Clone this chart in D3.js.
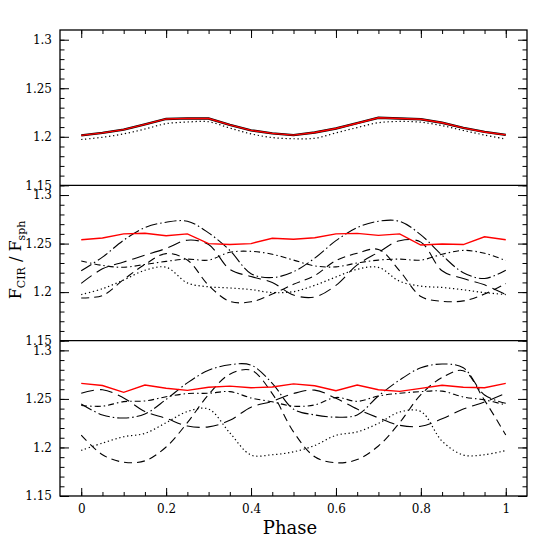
<!DOCTYPE html>
<html lang="en">
<head>
    <meta charset="UTF-8">
    <script src="https://d3js.org/d3.v7.min.js"></script>
    <title>F_CIR / F_sph vs phase</title>
    <style>
        body { margin: 0; background: #fff; }
        svg { display: block; }
        .tick text { font-family: "DejaVu Serif", serif; font-size: 12px; fill: #000; }
        .tick line { stroke: #000; stroke-width: 1; }
    </style>
</head>
<body>
<div id="chart"></div>
<script>
    // phase samples shared by every curve
    const phase = [0, 0.05, 0.1, 0.15, 0.2, 0.25, 0.3, 0.35, 0.4, 0.45, 0.5,
                   0.55, 0.6, 0.65, 0.7, 0.75, 0.8, 0.85, 0.9, 0.95, 1];

    // top panel
    const p1Red = [1.2015, 1.2040, 1.2074, 1.2128, 1.2184, 1.2190, 1.2188, 1.2122, 1.2066, 1.2035, 1.2017,
                   1.2044, 1.2085, 1.2140, 1.2196, 1.2188, 1.2180, 1.2145, 1.2092, 1.2050, 1.2020];
    const p1Dot = [1.1972, 1.1995, 1.2030, 1.2080, 1.2135, 1.2152, 1.2155, 1.2090, 1.2030, 1.1992, 1.1980,
                   1.1985, 1.2040, 1.2095, 1.2145, 1.2158, 1.2150, 1.2115, 1.2065, 1.2018, 1.1977];

    // middle panel
    const p2Red = [1.2540, 1.2558, 1.2600, 1.2607, 1.2580, 1.2600, 1.2500, 1.2490, 1.2500, 1.2555, 1.2545,
                   1.2560, 1.2600, 1.2605, 1.2585, 1.2600, 1.2485, 1.2496, 1.2490, 1.2570, 1.2540];
    const p2LongDashDot = [1.2220, 1.2360, 1.2535, 1.2665, 1.2720, 1.2730, 1.2610, 1.2430, 1.2190, 1.2150, 1.2210,
                           1.2350, 1.2530, 1.2665, 1.2730, 1.2729, 1.2590, 1.2380, 1.2200, 1.2140, 1.2225];
    const p2DashDot = [1.2320, 1.2275, 1.2256, 1.2285, 1.2317, 1.2340, 1.2330, 1.2410, 1.2420, 1.2390, 1.2330,
                       1.2270, 1.2260, 1.2300, 1.2330, 1.2340, 1.2330, 1.2390, 1.2430, 1.2400, 1.2325];
    const p2LongDash = [1.2090, 1.2240, 1.2310, 1.2380, 1.2450, 1.2535, 1.2490, 1.2235, 1.2160, 1.2100, 1.1970,
                        1.1950, 1.2070, 1.2280, 1.2410, 1.2530, 1.2515, 1.2220, 1.2140, 1.2075, 1.1975];
    const p2Dash = [1.1940, 1.1965, 1.2130, 1.2285, 1.2397, 1.2330, 1.2070, 1.1905, 1.1900, 1.1980, 1.2080,
                    1.2170, 1.2325, 1.2400, 1.2440, 1.2220, 1.1955, 1.1905, 1.1910, 1.1980, 1.2088];
    const p2Dot = [1.1975, 1.2035, 1.2125, 1.2225, 1.2256, 1.2095, 1.2055, 1.2043, 1.2026, 1.1995, 1.2005,
                   1.2070, 1.2156, 1.2235, 1.2255, 1.2112, 1.2062, 1.2048, 1.2024, 1.1995, 1.1975];

    // bottom panel
    const p3Red = [1.2660, 1.2638, 1.2568, 1.2643, 1.2610, 1.2588, 1.2620, 1.2632, 1.2615, 1.2622, 1.2655,
                   1.2635, 1.2585, 1.2643, 1.2594, 1.2578, 1.2608, 1.2640, 1.2620, 1.2615, 1.2660];
    const p3LongDashDot = [1.2448, 1.2335, 1.2303, 1.2345, 1.2495, 1.2665, 1.2795, 1.2852, 1.2848, 1.2660, 1.2395,
                           1.2335, 1.2312, 1.2335, 1.2530, 1.2695, 1.2820, 1.2860, 1.2820, 1.2540, 1.2455];
    const p3DashDot = [1.2432, 1.2425, 1.2472, 1.2479, 1.2522, 1.2555, 1.2558, 1.2575, 1.2510, 1.2470, 1.2425,
                       1.2438, 1.2515, 1.2475, 1.2530, 1.2558, 1.2575, 1.2580, 1.2520, 1.2490, 1.2438];
    const p3LongDash = [1.2558, 1.2595, 1.2510, 1.2370, 1.2300, 1.2221, 1.2212, 1.2280, 1.2415, 1.2475, 1.2555,
                        1.2590, 1.2506, 1.2395, 1.2305, 1.2228, 1.2218, 1.2295, 1.2395, 1.2468, 1.2558];
    const p3Dash = [1.2128, 1.1925, 1.1848, 1.1862, 1.2005, 1.2255, 1.2545, 1.2755, 1.2795, 1.2555, 1.2160,
                    1.1905, 1.1842, 1.1875, 1.2015, 1.2255, 1.2545, 1.2720, 1.2790, 1.2485, 1.2128];
    const p3Dot = [1.1970, 1.2045, 1.2110, 1.2145, 1.2255, 1.2370, 1.2395, 1.2150, 1.1922, 1.1925, 1.1955,
                   1.2020, 1.2125, 1.2160, 1.2248, 1.2365, 1.2370, 1.2065, 1.1922, 1.1925, 1.1968];

    // axis ticks and labels
    const xTicks = [0, 0.2, 0.4, 0.6, 0.8, 1];
    const xTickLabels = ["0", "0.2", "0.4", "0.6", "0.8", "1"];
    const yTicks = [1.15, 1.2, 1.25, 1.3];
    const yTickLabels = ["1.15", "1.2", "1.25", "1.3"];

    const width = 556, height = 556;
    const plotLeft = 60, plotRight = 527, plotTop = 30, panelH = 155.33;

    const styles = {
        red:         { color: "#ff0000", width: 1.4, dash: null, curve: d3.curveLinear },
        longDashDot: { color: "#000", width: 1.1, dash: "12,3,1.5,3", curve: d3.curveCatmullRom },
        dashDot:     { color: "#000", width: 1.1, dash: "6,3,1.5,3", curve: d3.curveCatmullRom },
        longDash:    { color: "#000", width: 1.1, dash: "13,6", curve: d3.curveCatmullRom },
        dash:        { color: "#000", width: 1.1, dash: "8,5", curve: d3.curveCatmullRom },
        dot:         { color: "#000", width: 1.2, dash: "1.3,2.7", curve: d3.curveCatmullRom },
        under:       { color: "#000", width: 2.4, dash: null, curve: d3.curveLinear }
    };

    const panels = [
        [["under", p1Red], ["dot", p1Dot], ["red", p1Red]],
        [["dot", p2Dot], ["dash", p2Dash], ["longDash", p2LongDash], ["dashDot", p2DashDot],
         ["longDashDot", p2LongDashDot], ["red", p2Red]],
        [["dot", p3Dot], ["dash", p3Dash], ["longDash", p3LongDash], ["dashDot", p3DashDot],
         ["longDashDot", p3LongDashDot], ["red", p3Red]]
    ];

    const svg = d3.select("#chart").append("svg")
        .attr("width", width)
        .attr("height", height);

    const x = d3.scaleLinear().domain([-0.05, 1.05]).range([plotLeft, plotRight]);

    const minorX = d3.range(0, 1.0001, 0.05);
    const minorY = d3.range(1.15, 1.3001, 0.01);

    panels.forEach((series, i) => {
        const y0 = plotTop + i * panelH;
        const y = d3.scaleLinear().domain([1.15, 1.31]).range([y0 + panelH, y0]);

        // minor y ticks, both sides
        svg.append("g").attr("transform", `translate(${plotLeft},0)`)
            .call(d3.axisLeft(y).tickValues(minorY).tickSize(-4.5).tickFormat(""))
            .call(g => g.select(".domain").remove());
        svg.append("g").attr("transform", `translate(${plotRight},0)`)
            .call(d3.axisRight(y).tickValues(minorY).tickSize(-4.5).tickFormat(""))
            .call(g => g.select(".domain").remove());

        // major y ticks with labels (1.15 of one panel sits on 1.3 of the next, as in the original)
        svg.append("g").attr("transform", `translate(${plotLeft},0)`)
            .call(d3.axisLeft(y).tickValues(yTicks).tickSize(-9).tickPadding(8)
                .tickFormat((d, k) => yTickLabels[k]))
            .call(g => g.select(".domain").remove());
        svg.append("g").attr("transform", `translate(${plotRight},0)`)
            .call(d3.axisRight(y).tickValues(yTicks).tickSize(-9).tickFormat(""))
            .call(g => g.select(".domain").remove());

        const line = d3.line().x((d, k) => x(phase[k])).y(d => y(d));

        series.forEach(([kind, values]) => {
            const s = styles[kind];
            svg.append("path")
                .datum(values)
                .attr("fill", "none")
                .attr("stroke", s.color)
                .attr("stroke-width", s.width)
                .attr("stroke-dasharray", s.dash)
                .attr("d", line.curve(s.curve));
        });
    });

    // x ticks on the very top and very bottom
    const yTop = plotTop, yBottom = plotTop + 3 * panelH;
    svg.append("g").attr("transform", `translate(0,${yTop})`)
        .call(d3.axisTop(x).tickValues(minorX).tickSize(-4).tickFormat(""))
        .call(g => g.select(".domain").remove());
    svg.append("g").attr("transform", `translate(0,${yTop})`)
        .call(d3.axisTop(x).tickValues(xTicks).tickSize(-8).tickFormat(""))
        .call(g => g.select(".domain").remove());
    svg.append("g").attr("transform", `translate(0,${yBottom})`)
        .call(d3.axisBottom(x).tickValues(minorX).tickSize(-4).tickFormat(""))
        .call(g => g.select(".domain").remove());
    svg.append("g").attr("transform", `translate(0,${yBottom})`)
        .call(d3.axisBottom(x).tickValues(xTicks).tickSize(-8).tickPadding(8)
            .tickFormat((d, k) => xTickLabels[k]))
        .call(g => g.select(".domain").remove());

    // frame and panel dividers
    svg.append("rect")
        .attr("x", plotLeft).attr("y", plotTop)
        .attr("width", plotRight - plotLeft).attr("height", 3 * panelH)
        .attr("fill", "none").attr("stroke", "#000").attr("stroke-width", 1.3);
    [1, 2].forEach(k => {
        svg.append("line")
            .attr("x1", plotLeft).attr("x2", plotRight)
            .attr("y1", plotTop + k * panelH).attr("y2", plotTop + k * panelH)
            .attr("stroke", "#000").attr("stroke-width", 1.3);
    });

    // axis titles
    svg.append("text")
        .attr("x", 290).attr("y", 534)
        .attr("text-anchor", "middle")
        .style("font-family", "DejaVu Serif, serif")
        .style("font-size", "18px")
        .text("Phase");

    const yTitle = svg.append("text")
        .attr("transform", "translate(21,260) rotate(-90)")
        .attr("text-anchor", "middle")
        .style("font-family", "DejaVu Serif, serif")
        .style("font-size", "16px");
    yTitle.append("tspan").text("F");
    yTitle.append("tspan").attr("dy", 4).style("font-size", "11px").text("CIR");
    yTitle.append("tspan").attr("dy", -4).text("  /  F");
    yTitle.append("tspan").attr("dy", 4).style("font-size", "11px").text("sph");
</script>
</body>
</html>
